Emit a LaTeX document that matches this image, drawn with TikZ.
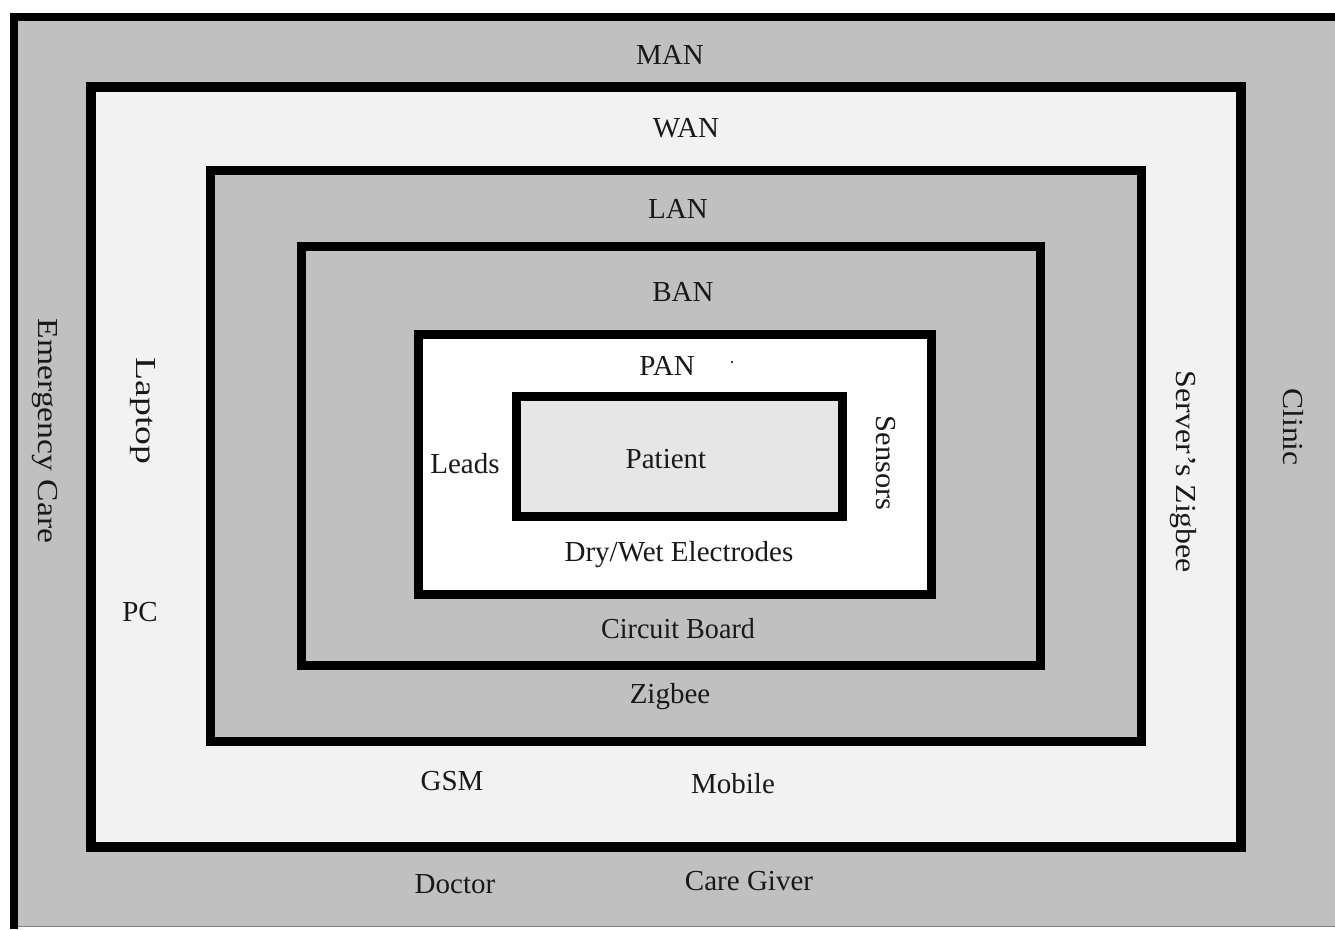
\documentclass[tikz,border=0pt]{standalone}
\usepackage{fontspec}
\setmainfont{Liberation Serif}
\definecolor{midgray}{RGB}{192,192,192}
\definecolor{palegray}{RGB}{242,242,242}
\definecolor{patgray}{RGB}{230,230,230}
\tikzset{
  x=1pt,y=-1pt,
  frame/.style={draw=black,line width=9pt},
  lbl/.style={inner sep=0pt,text=black!90,font=\fontsize{29}{32}\selectfont},
  vlbl/.style={lbl,rotate=-90,xscale=#1},
  vlbl/.default=1,
}
\begin{document}
\begin{tikzpicture}
\useasboundingbox[fill=white] (0,0) rectangle (1335,929);
% MAN (outer)
\fill[midgray] (14,17) rectangle (1335,926);
\draw[gray,line width=1pt] (14,926) -- (1335,926);
\draw[black,line width=8pt] (14,929) -- (14,17) -- (1335,17);
% WAN
\path[frame,fill=palegray,line width=10pt] (91,87) rectangle (1241,847);
% LAN
\path[frame,fill=midgray] (210,170) rectangle (1141,741);
% BAN
\path[frame,fill=midgray] (301,246) rectangle (1040,665);
% PAN
\path[frame,fill=white] (418,334) rectangle (931,594);
% Patient
\path[frame,fill=patgray] (516,396) rectangle (842,516);
\fill[black] (732,362) circle (1.2pt);
% labels
\node[lbl] (man) at (670,55) {MAN};
\node[lbl] (wan) at (686,128) {WAN};
\node[lbl] (lan) at (678,209) {LAN};
\node[lbl] (ban) at (683,292) {BAN};
\node[lbl] (pan) at (667,366) {PAN};
\node[lbl] (patient) at (666,459) {Patient};
\node[lbl] (leads) at (465,464) {Leads};
\node[vlbl=1.05] (sensors) at (886,463) {Sensors};
\node[lbl] (electrodes) at (679,555) {Dry/Wet Electrodes};
\node[lbl,xscale=0.97] (circuit) at (678,629) {Circuit Board};
\node[lbl] (zigbee) at (670,697) {Zigbee};
\node[lbl] (gsm) at (452,781) {GSM};
\node[lbl] (mobile) at (733,784) {Mobile};
\node[lbl] (doctor) at (455,884) {Doctor};
\node[lbl] (caregiver) at (749,881) {Care Giver};
\node[vlbl=1.16] (emergency) at (45,431) {Emergency Care};
\node[vlbl=1.3] (laptop) at (143,411) {Laptop};
\node[lbl] (pc) at (140,612) {PC};
\node[vlbl=1.1] (server) at (1183,472) {Server's Zigbee};
\node[vlbl=1.09] (clinic) at (1293,427) {Clinic};
\end{tikzpicture}
\end{document}
